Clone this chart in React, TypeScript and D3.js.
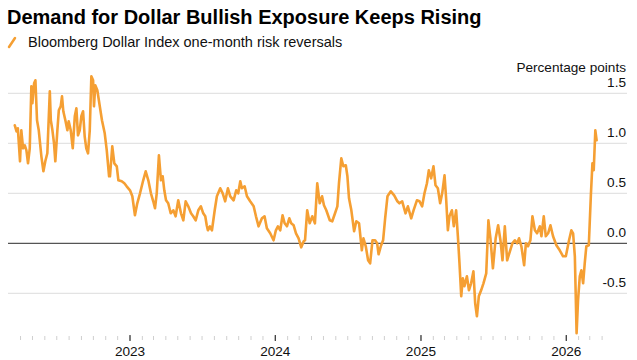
import React from "react";
import * as d3 from "d3";

// Decimal-year dates
const dateYears = [
  2022.207, 2022.219, 2022.228, 2022.243, 2022.252, 2022.264, 2022.276, 2022.287, 2022.298, 2022.31,
  2022.321, 2022.328, 2022.34, 2022.349, 2022.36, 2022.372, 2022.39, 2022.404, 2022.417, 2022.431,
  2022.448, 2022.455, 2022.466, 2022.477, 2022.486, 2022.5, 2022.51, 2022.523, 2022.532, 2022.541,
  2022.555, 2022.569, 2022.578, 2022.592, 2022.606, 2022.62, 2022.631, 2022.642, 2022.654, 2022.665,
  2022.677, 2022.688, 2022.699, 2022.711, 2022.723, 2022.734, 2022.746, 2022.752, 2022.761, 2022.775,
  2022.792, 2022.807, 2022.826, 2022.84, 2022.856, 2022.862, 2022.878, 2022.892, 2022.909, 2022.92,
  2022.943, 2022.961, 2022.977, 2023.0, 2023.016, 2023.034, 2023.05, 2023.069, 2023.091, 2023.108,
  2023.126, 2023.144, 2023.16, 2023.172, 2023.184, 2023.199, 2023.213, 2023.225, 2023.236, 2023.248,
  2023.263, 2023.28, 2023.298, 2023.314, 2023.332, 2023.351, 2023.367, 2023.383, 2023.401, 2023.42,
  2023.435, 2023.452, 2023.47, 2023.488, 2023.504, 2023.518, 2023.528, 2023.536, 2023.55, 2023.564,
  2023.583, 2023.598, 2023.621, 2023.638, 2023.655, 2023.674, 2023.69, 2023.713, 2023.731, 2023.745,
  2023.759, 2023.77, 2023.789, 2023.805, 2023.827, 2023.851, 2023.867, 2023.885, 2023.908, 2023.926,
  2023.942, 2023.965, 2023.988, 2024.004, 2024.018, 2024.034, 2024.05, 2024.064, 2024.08, 2024.096,
  2024.109, 2024.126, 2024.142, 2024.16, 2024.178, 2024.195, 2024.204, 2024.219, 2024.236, 2024.254,
  2024.272, 2024.288, 2024.305, 2024.321, 2024.334, 2024.35, 2024.374, 2024.391, 2024.41, 2024.426,
  2024.437, 2024.453, 2024.467, 2024.484, 2024.495, 2024.506, 2024.522, 2024.541, 2024.556, 2024.575,
  2024.594, 2024.605, 2024.621, 2024.637, 2024.651, 2024.667, 2024.685, 2024.699, 2024.709, 2024.724,
  2024.74, 2024.754, 2024.77, 2024.793, 2024.816, 2024.838, 2024.852, 2024.871, 2024.894, 2024.91,
  2024.933, 2024.949, 2024.972, 2024.99, 2025.008, 2025.024, 2025.041, 2025.054, 2025.07, 2025.086,
  2025.1, 2025.116, 2025.132, 2025.146, 2025.162, 2025.173, 2025.185, 2025.196, 2025.213, 2025.226,
  2025.242, 2025.254, 2025.265, 2025.277, 2025.288, 2025.299, 2025.316, 2025.33, 2025.345, 2025.361,
  2025.373, 2025.385, 2025.398, 2025.414, 2025.43, 2025.449, 2025.464, 2025.478, 2025.495, 2025.514,
  2025.531, 2025.547, 2025.561, 2025.577, 2025.593, 2025.612, 2025.629, 2025.646, 2025.662, 2025.675,
  2025.691, 2025.71, 2025.722, 2025.737, 2025.753, 2025.767, 2025.784, 2025.799, 2025.818, 2025.829,
  2025.845, 2025.859, 2025.875, 2025.891, 2025.909, 2025.932, 2025.955, 2025.978, 2025.997, 2026.019,
  2026.035, 2026.047, 2026.059, 2026.071, 2026.081, 2026.093, 2026.104, 2026.116, 2026.127, 2026.138,
  2026.155, 2026.169, 2026.18, 2026.189, 2026.2, 2026.209,
];

// Bloomberg Dollar Index one-month risk reversals (percentage points)
const riskReversals = [
  1.18, 1.12, 1.15, 0.82, 1.13, 0.95, 0.98, 0.93, 0.8, 0.95,
  1.57, 1.4, 1.6, 1.63, 1.23, 1.13, 0.87, 0.72, 0.82, 0.9,
  1.52, 1.23, 1.13, 1.0, 0.82, 1.13, 1.33, 1.37, 1.47, 1.32,
  1.23, 1.13, 1.22, 1.13, 0.95, 1.27, 1.35, 1.08, 1.13, 1.27,
  1.32, 1.07, 0.95, 0.9, 1.13, 1.67, 1.63, 1.37, 1.58, 1.53,
  1.37, 1.23, 1.1, 0.93, 0.67, 0.67, 0.97, 0.8, 0.77, 0.63,
  0.62, 0.6, 0.57, 0.53, 0.47, 0.28, 0.4, 0.5, 0.63, 0.72,
  0.63, 0.5, 0.42, 0.35, 0.5, 0.88, 0.63, 0.67, 0.53, 0.43,
  0.4, 0.3, 0.33, 0.27, 0.43, 0.3, 0.23, 0.42, 0.37, 0.3,
  0.27, 0.23, 0.33, 0.37, 0.3, 0.27, 0.18, 0.13, 0.17, 0.13,
  0.33, 0.47, 0.55, 0.5, 0.42, 0.55, 0.47, 0.43, 0.53, 0.5,
  0.62, 0.55, 0.57, 0.47, 0.42, 0.37, 0.27, 0.17, 0.25, 0.27,
  0.15, 0.1, 0.03, 0.13, 0.17, 0.13, 0.28, 0.2, 0.17, 0.25,
  0.2, 0.18, 0.1, 0.05, -0.04, 0.02, 0.03, 0.33, 0.2, 0.27,
  0.2, 0.6, 0.4, 0.47, 0.38, 0.33, 0.23, 0.22, 0.3, 0.37,
  0.6, 0.85, 0.77, 0.78, 0.67, 0.45, 0.33, 0.12, 0.22, 0.2,
  -0.07, 0.05, -0.03, -0.17, -0.2, 0.03, 0.03, 0.0, -0.11, -0.03,
  0.03, 0.25, 0.47, 0.52, 0.48, 0.42, 0.4, 0.42, 0.3, 0.37,
  0.25, 0.33, 0.43, 0.42, 0.37, 0.5, 0.6, 0.73, 0.65, 0.77,
  0.58, 0.55, 0.4, 0.5, 0.68, 0.45, 0.13, 0.27, 0.33, 0.17,
  0.33, 0.07, -0.2, -0.53, -0.35, -0.43, -0.33, -0.47, -0.4, -0.28,
  -0.6, -0.73, -0.53, -0.47, -0.4, -0.3, 0.23, 0.05, -0.25, 0.05,
  0.18, 0.03, -0.17, 0.17, -0.17, -0.08, 0.0, 0.03, 0.0, 0.05,
  -0.03, -0.22, 0.0, -0.03, 0.03, 0.27, 0.13, 0.1, 0.17, 0.07,
  0.27, 0.07, 0.1, 0.18, 0.07, -0.02, -0.07, -0.13, -0.13, 0.03,
  0.13, 0.1, -0.13, -0.9, -0.57, -0.33, -0.27, -0.4, -0.2, -0.03,
  -0.02, 0.47, 0.8, 0.73, 1.13, 1.03,
];

const yTicks = [-0.5, 0, 0.5, 1.0, 1.5];
const yTickLabels = ["-0.5", "0.0", "0.5", "1.0", "1.5"];
const yearTicks = ["2023-01-01", "2024-01-01", "2025-01-01", "2026-01-01"];
const yearLabels = ["2023", "2024", "2025", "2026"];

const title = "Demand for Dollar Bullish Exposure Keeps Rising";
const legendLabel = "Bloomberg Dollar Index one-month risk reversals";
const unitLabel = "Percentage points";

const W = 637;
const H = 360;
const ORANGE = "#f59f33";
const FONT = "'Liberation Sans', Arial, Helvetica, sans-serif";

function toDate(t: number): Date {
  const y = Math.floor(t);
  const s = Date.UTC(y, 0, 1);
  const e = Date.UTC(y + 1, 0, 1);
  return new Date(s + (t - y) * (e - s));
}

export default function App() {
  const x = d3
    .scaleUtc()
    .domain([new Date(Date.UTC(2022, 2, 1)), new Date(Date.UTC(2026, 3, 1))])
    .range([8.2, 602.1]);
  const y = d3.scaleLinear().domain([-0.5, 1.5]).range([293.3, 93.3]);

  const data = dateYears.map((t, i) => ({ d: toDate(t), v: riskReversals[i] }));
  const line = d3
    .line<{ d: Date; v: number }>()
    .x((p) => x(p.d))
    .y((p) => y(p.v))
    .curve(d3.curveLinear);

  const months = d3.utcMonth.range(new Date(Date.UTC(2022, 3, 1)), new Date(Date.UTC(2026, 3, 2)));
  const gridLeft = 8;
  const gridRight = 627;
  const axisY = 336;

  return (
    <svg
      width={W}
      height={H}
      style={{ position: "absolute", left: 0, top: 0, background: "#fff" }}
      fontFamily={FONT}
    >
      <rect x={0} y={0} width={W} height={H} fill="#fff" />
      <text x={7} y={24} fontSize={20} fontWeight="bold" fill="#000">
        {title}
      </text>
      <line x1={9} y1={47} x2={15} y2={38} stroke={ORANGE} strokeWidth={2.5} strokeLinecap="round" />
      <text x={28} y={47} fontSize={14.5} fill="#111">
        {legendLabel}
      </text>
      <text x={626} y={72} fontSize={13.6} fill="#111" textAnchor="end">
        {unitLabel}
      </text>

      {yTicks.map((t, i) => (
        <g key={"g" + i}>
          <line
            x1={gridLeft}
            x2={gridRight}
            y1={y(t)}
            y2={y(t)}
            stroke={t === 0 ? "#555" : "#dcdcdc"}
            strokeWidth={t === 0 ? 1.3 : 1}
          />
          <text x={626} y={y(t) - 6} fontSize={13.6} textAnchor="end" fill="#111">
            {yTickLabels[i]}
          </text>
        </g>
      ))}

      {months.map((m, i) => (
        <line key={"m" + i} x1={x(m)} x2={x(m)} y1={axisY} y2={axisY + 4} stroke="#cfcfcf" strokeWidth={1} />
      ))}
      {yearTicks.map((s, i) => {
        const xx = x(new Date(s + "T00:00:00Z"));
        return (
          <g key={"y" + i}>
            <line x1={xx} x2={xx} y1={axisY - 1} y2={axisY + 5} stroke="#333" strokeWidth={1.2} />
            <text x={xx} y={356} fontSize={13.6} textAnchor="middle" fill="#111">
              {yearLabels[i]}
            </text>
          </g>
        );
      })}

      <path
        d={line(data) || ""}
        fill="none"
        stroke={ORANGE}
        strokeWidth={2.6}
        strokeLinejoin="round"
        strokeLinecap="round"
      />
    </svg>
  );
}
